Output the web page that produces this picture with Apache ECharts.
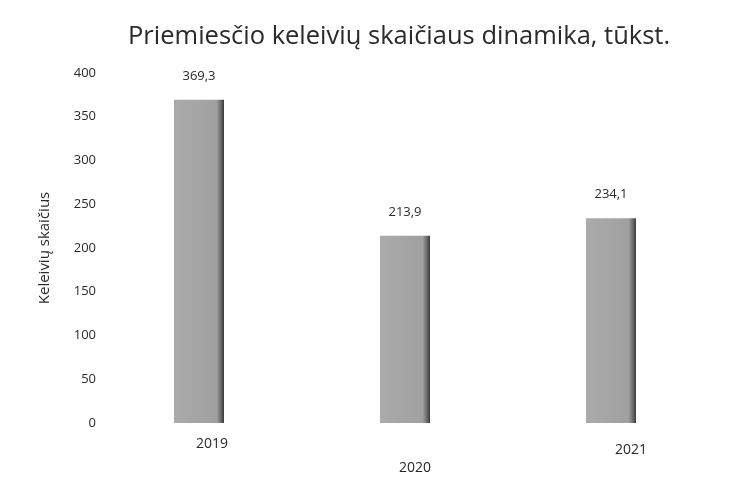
<!DOCTYPE html>
<html>
<head>
<meta charset="utf-8">
<script src="https://cdn.jsdelivr.net/npm/echarts@6/dist/echarts.min.js"></script>
<style>
  html, body { margin: 0; padding: 0; background: #fff; }
  #chart { width: 754px; height: 498px; }
</style>
</head>
<body>
<div id="chart"></div>
<script>
const years = ['2019', '2020', '2021'];
const passengers = [369.3, 213.9, 234.1];
// scan puts the year labels at uneven heights
const labelTop = [0, 24, 6];
const labelLeft = [26, 20, 40];

const chart = echarts.init(document.getElementById('chart'));
const font = '"Open Sans", sans-serif';

chart.setOption({
  animation: false,
  title: {
    text: 'Priemiesčio keleivių skaičiaus dinamika, tūkst.',
    left: 123,
    top: 19,
    textStyle: { fontFamily: font, fontSize: 25.5, fontWeight: 'normal', color: '#2a2a2a' }
  },
  grid: { left: 96, right: 40, top: 73, bottom: 75 },
  xAxis: {
    type: 'category',
    data: years.map((y, i) => ({
      value: y,
      textStyle: { padding: [labelTop[i], 0, 0, labelLeft[i]] }
    })),
    axisLine: { show: false },
    axisTick: { show: false },
    axisLabel: { margin: 14, fontFamily: font, fontSize: 14, color: '#2a2a2a' }
  },
  yAxis: {
    type: 'value',
    min: 0,
    max: 400,
    interval: 50,
    name: 'Keleivių skaičius',
    nameLocation: 'middle',
    nameGap: 44,
    nameTextStyle: { fontFamily: font, fontSize: 15, color: '#2a2a2a' },
    axisLine: { show: false },
    axisTick: { show: false },
    splitLine: { show: false },
    axisLabel: { margin: 0, fontFamily: font, fontSize: 13, color: '#2a2a2a' }
  },
  series: [{
    type: 'bar',
    data: passengers,
    barWidth: 50,
    itemStyle: {
      color: new echarts.graphic.LinearGradient(0, 0, 1, 0, [
        { offset: 0, color: '#ababab' },
        { offset: 0.85, color: '#a0a0a0' },
        { offset: 0.93, color: '#707070' },
        { offset: 1, color: '#3a3a3a' }
      ])
    },
    label: {
      show: true,
      position: 'top',
      distance: 17,
      fontFamily: font,
      fontSize: 13,
      color: '#2a2a2a',
      formatter: p => String(p.value).replace('.', ',')
    }
  }]
});
</script>
</body>
</html>
